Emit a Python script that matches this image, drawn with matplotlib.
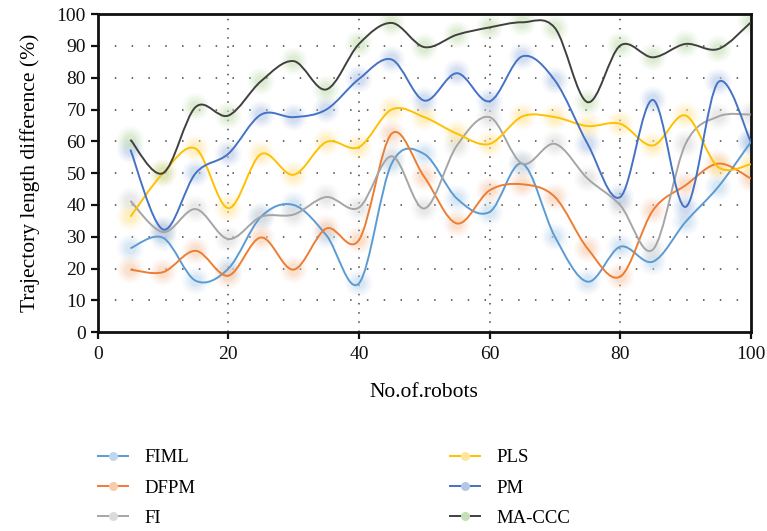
import matplotlib.pyplot as plt
from matplotlib.path import Path
from matplotlib.patches import PathPatch
from matplotlib.lines import Line2D

plt.rcParams['font.family'] = ['Liberation Serif', 'DejaVu Serif']

robots = [5, 10, 15, 20, 25, 30, 35, 40, 45, 50, 55, 60, 65, 70, 75, 80, 85, 90, 95, 100]

fiml = [26.4, 29.7, 16.2, 20.0, 36.3, 40.0, 30.5, 15.4, 53.0, 56.0,
        42.0, 37.8, 53.0, 30.0, 15.9, 26.9, 22.2, 34.7, 45.7, 59.8]
dfpm = [19.7, 18.9, 25.6, 17.8, 29.8, 19.7, 32.6, 29.0, 62.4, 48.8,
        34.2, 44.6, 46.5, 42.5, 26.3, 17.5, 38.3, 46.2, 53.0, 48.3]
fi = [41.3, 31.5, 38.7, 29.3, 36.3, 37.0, 42.5, 39.2, 55.3, 38.9,
      58.7, 67.6, 53.0, 59.2, 48.3, 39.9, 26.0, 59.2, 67.8, 68.4]
pls = [36.3, 50.0, 57.7, 39.0, 56.0, 49.5, 59.8, 58.2, 70.0, 67.6,
       62.4, 59.2, 67.8, 67.6, 64.8, 65.5, 58.7, 68.1, 51.9, 52.8]
pm = [57.4, 32.3, 50.0, 56.1, 68.4, 67.6, 70.0, 79.6, 85.7, 72.8,
      81.4, 72.6, 86.7, 79.1, 59.2, 42.5, 73.0, 39.4, 78.6, 59.8]
maccc = [60.5, 50.0, 70.8, 68.1, 78.9, 85.2, 76.3, 90.6, 97.2, 89.6,
         93.5, 95.8, 97.4, 95.6, 72.3, 90.1, 86.4, 90.6, 89.0, 97.4]

series = [
    ("FIML", fiml, "#5B9BD5", "#BDD7EE"),
    ("DFPM", dfpm, "#ED7D31", "#F8CBAD"),
    ("FI", fi, "#A5A5A5", "#DBDBDB"),
    ("PLS", pls, "#FFC000", "#FFE699"),
    ("PM", pm, "#4472C4", "#B4C7E7"),
    ("MA-CCC", maccc, "#404040", "#C5E0B4"),
]


def smooth_path(xs, ys):
    # Catmull-Rom style bezier through the points (like Excel smoothed line)
    pts = list(zip(xs, ys))
    verts = [pts[0]]
    codes = [Path.MOVETO]
    n = len(pts)
    for i in range(n - 1):
        p0 = pts[i - 1] if i > 0 else pts[i]
        p1 = pts[i]
        p2 = pts[i + 1]
        p3 = pts[i + 2] if i + 2 < n else pts[i + 1]
        c1 = (p1[0] + (p2[0] - p0[0]) / 6, p1[1] + (p2[1] - p0[1]) / 6)
        c2 = (p2[0] - (p3[0] - p1[0]) / 6, p2[1] - (p3[1] - p1[1]) / 6)
        verts += [c1, c2, p2]
        codes += [Path.CURVE4] * 3
    return Path(verts, codes)


fig = plt.figure(figsize=(7.67, 5.31), dpi=100)
ax = fig.add_axes([0.1274, 0.3742, 0.8516, 0.5994])

handles = []
for name, vals, col, light in series:
    # soft blurred markers
    for s, a in [(380, 0.10), (260, 0.14), (160, 0.2), (80, 0.3)]:
        ax.scatter(robots, vals, s=s, color=light, alpha=a, edgecolors='none', zorder=2)
    ax.add_patch(PathPatch(smooth_path(robots, vals), fill=False, edgecolor=col, lw=1.4, zorder=3))
    handles.append(Line2D([], [], color=col, lw=1.4, marker='o', markersize=6.5,
                          markerfacecolor=light, markeredgecolor='none', label=name))

ax.set_xlim(0, 100)
ax.set_ylim(0, 100)
ax.set_xticks(range(0, 101, 20))
ax.set_yticks(range(0, 101, 10))
for v in range(10, 100, 10):
    ax.axhline(v, color='#444444', lw=1.1, ls=(0, (1, 10)), zorder=1)
for v in range(20, 100, 20):
    ax.axvline(v, color='#444444', lw=1.1, ls=(0, (1, 5)), zorder=1)

for sp in ax.spines.values():
    sp.set_linewidth(2)
    sp.set_color('#111111')
ax.tick_params(width=1.6, length=5, labelsize=14, colors='#111111')
ax.tick_params(axis='x', pad=5)
ax.set_xlabel("No.of.robots", fontsize=15.5, labelpad=14)
ax.set_ylabel("Trajectory length difference (%)", fontsize=15.5, labelpad=12)

fig.legend(handles=handles, ncol=2, frameon=False, loc='upper left',
           bbox_to_anchor=(89 / 767, 1 - 440 / 531), borderpad=0, fontsize=13.5,
           handlelength=1.6, handletextpad=0.85, columnspacing=13.6, labelspacing=0.7)

fig.savefig("out.png", dpi=100)
